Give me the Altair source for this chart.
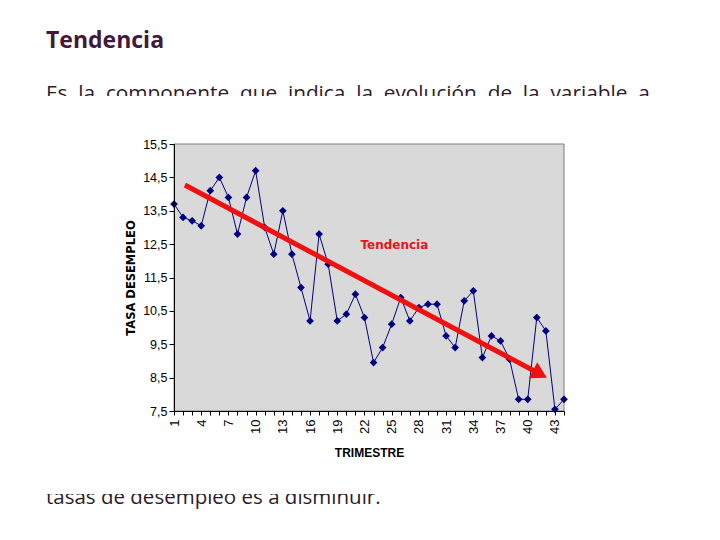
import altair as alt
import pandas as pd

# ---- data ----
trimestre = list(range(1, 45))
tasa = [13.7, 13.3, 13.2, 13.05, 14.1, 14.5, 13.9, 12.8, 13.9, 14.7,
        13.0, 12.2, 13.5, 12.2, 11.2, 10.2, 12.8, 11.9, 10.2, 10.4,
        11.0, 10.3, 8.95, 9.4, 10.1, 10.9, 10.2, 10.6, 10.7, 10.7,
        9.75, 9.4, 10.8, 11.1, 9.1, 9.75, 9.6, 9.05, 7.85, 7.85,
        10.3, 9.9, 7.55, 7.85]

y_ticks = [7.5, 8.5, 9.5, 10.5, 11.5, 12.5, 13.5, 14.5, 15.5]

arrow_x = [2.2, 41.4]
arrow_y = [14.27, 8.6]
head_x = [41.35]
head_y = [8.61]

label_text = ["Tendencia"]
label_x = [25.3]
label_y = [12.47]

NB = "\u00a0"
slide_title = ["Tendencia"]
body_top_words = ["Es", "la", "componente", "que", "indica", "la", "evolución", "de", "la", "variable", "a"]
body_top = [(" " + NB).join(body_top_words)]
body_bottom = ["tasas de desempleo es a disminuir."]

W, H = 390, 267
one = pd.DataFrame({"k": [0]})

xscale = alt.Scale(domain=[1, 44], nice=False, zero=False)
yscale = alt.Scale(domain=[7.5, 15.5], nice=False, zero=False)

# slide texts (drawn first, partly covered by the chart "image")
title = alt.Chart(pd.DataFrame({"t": slide_title})).mark_text(
    align="left", baseline="alphabetic", font="Open Sans", fontWeight="bold",
    fontSize=23, color="#3F1A3A"
).encode(x=alt.value(-128), y=alt.value(-96), text="t:N")

top_txt = alt.Chart(pd.DataFrame({"t": body_top})).mark_text(
    align="left", baseline="alphabetic", font="Open Sans", fontSize=20.8,
    color="#2E1A2B"
).encode(x=alt.value(-128), y=alt.value(-44), text="t:N")

bot_txt = alt.Chart(pd.DataFrame({"t": body_bottom})).mark_text(
    align="left", baseline="alphabetic", font="Open Sans", fontSize=20.5,
    color="#2E1A2B"
).encode(x=alt.value(-128), y=alt.value(360), text="t:N")

# white chart image background covering the text
cover = alt.Chart(one).mark_rect(color="white").encode(
    x=alt.value(-140), x2=alt.value(520), y=alt.value(-48), y2=alt.value(350)
)

# gray plot area
plot_bg = alt.Chart(one).mark_rect(color="#D9D9D9", stroke="#808080", strokeWidth=1).encode(
    x=alt.value(0), x2=alt.value(W), y=alt.value(0), y2=alt.value(H)
)

df = pd.DataFrame({"t": trimestre, "v": tasa})

x_enc = alt.X("t:Q", scale=xscale, title="TRIMESTRE",
              axis=alt.Axis(values=trimestre, labelExpr="(datum.value - 1) % 3 == 0 ? datum.value : ''",
                            labelAngle=-90, labelFont="Liberation Sans", labelFontSize=13,
                            labelColor="black", labelPadding=4, tickSize=4, tickColor="black",
                            labelOverlap=False, labelFlush=False,
                            domainColor="black", grid=False, zindex=1,
                            titleFont="Liberation Sans", titleFontSize=12,
                            titleFontWeight="bold", titleColor="black", titlePadding=14))
y_enc = alt.Y("v:Q", scale=yscale, title="TASA DESEMPLEO",
              axis=alt.Axis(values=y_ticks,
                            labelExpr="replace(format(datum.value, '.1f'), '.', ',')",
                            labelFont="Liberation Sans", labelFontSize=12.5,
                            labelColor="black", labelPadding=2, tickSize=5, tickColor="black",
                            labelOverlap=False, labelFlush=False,
                            domainColor="black", grid=False, zindex=1,
                            titleFont="DejaVu Sans", titleFontSize=11.5,
                            titleFontWeight="bold", titleColor="black", titlePadding=6))

line = alt.Chart(df).mark_line(color="#000080", strokeWidth=1).encode(x=x_enc, y=y_enc)
pts = alt.Chart(df).mark_point(shape="diamond", filled=True, color="#000080",
                               size=60, opacity=1).encode(x=x_enc, y=y_enc)

adf = pd.DataFrame({"t": arrow_x, "v": arrow_y})
arrow = alt.Chart(adf).mark_line(color="#F01010", strokeWidth=5).encode(x=x_enc, y=y_enc)
hdf = pd.DataFrame({"t": head_x, "v": head_y})
head = alt.Chart(hdf).mark_point(shape="triangle-right", filled=True, color="#F01010",
                                 size=330, angle=28, opacity=1).encode(x=x_enc, y=y_enc)

ldf = pd.DataFrame({"t": label_x, "v": label_y, "s": label_text})
lab = alt.Chart(ldf).mark_text(font="DejaVu Sans", fontWeight="bold", fontSize=12,
                               color="#E8141B").encode(x=x_enc, y=y_enc, text="s:N")

chart = alt.layer(title, top_txt, bot_txt, cover, plot_bg, line, pts, arrow, head, lab).properties(
    width=W, height=H,
    autosize=alt.AutoSizeParams(type="none"),
    padding={"left": 166, "top": 136, "right": 148, "bottom": 121},
).configure_view(stroke=None, fill=None).configure_axis(
    labelOverlap=False
).configure(background="white")

chart.save("out.html", embed_options={"renderer": "svg", "actions": False})
